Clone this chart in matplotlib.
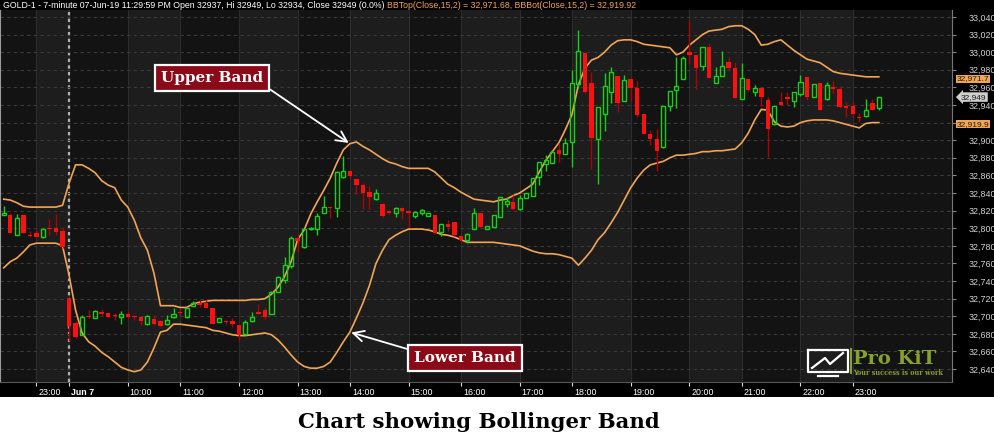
import matplotlib
matplotlib.use("Agg")
import matplotlib.pyplot as plt
import matplotlib.transforms as mtransforms
from matplotlib.lines import Line2D
from matplotlib.patches import Rectangle
import numpy as np

# 7-minute GOLD-1 bars, index 0 = first visible bar (previous evening)
opens = [32815, 32815, 32792, 32815, 32792, 32795, 32790, 32800, 32800, 32797,
         32721, 32692, 32679, 32700, 32698, 32704, 32704, 32701, 32699, 32702,
         32700, 32699, 32691, 32697, 32695, 32691, 32699, 32705, 32699, 32712,
         32715, 32715, 32709, 32694, 32694, 32695, 32690, 32680, 32695, 32705,
         32707, 32703, 32727, 32741, 32757, 32789, 32779, 32799, 32799, 32817,
         32824, 32823, 32858, 32865, 32856, 32849, 32841, 32833, 32828, 32820,
         32817, 32823, 32820, 32814, 32817, 32814, 32815, 32796, 32805, 32807,
         32791, 32787, 32799, 32817, 32799, 32801, 32813, 32828, 32830, 32822,
         32834, 32837, 32858, 32873, 32874, 32889, 32884, 32898, 32964, 32999,
         32965, 32901, 32930, 32955, 32973, 32945, 32970, 32959, 32930, 32907,
         32901, 32892, 32939, 32957, 32970, 33000, 32997, 32984, 33006, 32965,
         32973, 32989, 32982, 32947, 32970, 32955, 32959, 32946, 32918, 32943,
         32949, 32945, 32953, 32972, 32949, 32965, 32947, 32960, 32958, 32939,
         32939, 32926, 32927, 32942, 32937]
highs = [32825, 32817, 32816, 32815, 32797, 32798, 32800, 32810, 32816, 32801,
         32722, 32695, 32701, 32707, 32707, 32708, 32705, 32704, 32706, 32706,
         32701, 32699, 32701, 32701, 32696, 32701, 32709, 32708, 32711, 32717,
         32718, 32718, 32709, 32698, 32696, 32698, 32690, 32696, 32705, 32714,
         32711, 32729, 32746, 32767, 32791, 32792, 32800, 32801, 32817, 32837,
         32824, 32865, 32882, 32866, 32857, 32851, 32848, 32844, 32829, 32821,
         32824, 32824, 32821, 32820, 32822, 32817, 32815, 32805, 32809, 32807,
         32791, 32795, 32823, 32817, 32803, 32815, 32836, 32836, 32838, 32838,
         32840, 32857, 32875, 32883, 32889, 32897, 32903, 32980, 33025, 33000,
         32978, 32938, 32976, 32983, 32973, 32974, 32970, 32967, 32930, 32912,
         32913, 32939, 32956, 32995, 32996, 33037, 32997, 33006, 33009, 32983,
         33001, 32995, 32989, 32988, 32970, 32963, 32959, 32949, 32939, 32955,
         32955, 32955, 32974, 32972, 32964, 32965, 32966, 32967, 32962, 32943,
         32943, 32931, 32947, 32947, 32949]
lows = [32815, 32795, 32792, 32795, 32790, 32790, 32789, 32792, 32792, 32778,
        32672, 32675, 32679, 32698, 32698, 32700, 32699, 32696, 32691, 32698,
        32696, 32690, 32690, 32690, 32688, 32690, 32698, 32699, 32698, 32712,
        32711, 32709, 32691, 32694, 32691, 32688, 32672, 32679, 32694, 32702,
        32697, 32703, 32727, 32738, 32755, 32773, 32778, 32798, 32792, 32817,
        32812, 32813, 32857, 32856, 32839, 32822, 32822, 32832, 32813, 32816,
        32813, 32811, 32801, 32812, 32815, 32814, 32795, 32791, 32797, 32791,
        32784, 32783, 32799, 32800, 32799, 32801, 32813, 32824, 32821, 32821,
        32834, 32837, 32849, 32865, 32874, 32875, 32884, 32869, 32959, 32954,
        32867, 32850, 32911, 32942, 32932, 32945, 32945, 32926, 32907, 32895,
        32865, 32891, 32933, 32937, 32970, 32986, 32958, 32980, 32971, 32965,
        32973, 32980, 32948, 32947, 32956, 32950, 32939, 32881, 32917, 32940,
        32940, 32938, 32950, 32946, 32949, 32934, 32946, 32954, 32937, 32926,
        32926, 32921, 32926, 32934, 32934]
closes = [32817, 32795, 32812, 32795, 32791, 32790, 32799, 32799, 32796, 32779,
          32689, 32676, 32699, 32699, 32706, 32703, 32699, 32700, 32702, 32699,
          32699, 32695, 32700, 32691, 32689, 32696, 32703, 32704, 32709, 32715,
          32713, 32709, 32691, 32698, 32693, 32691, 32679, 32694, 32699, 32703,
          32699, 32728, 32745, 32758, 32789, 32786, 32799, 32800, 32814, 32824,
          32823, 32864, 32865, 32859, 32849, 32840, 32836, 32840, 32814, 32817,
          32823, 32820, 32817, 32818, 32821, 32817, 32795, 32805, 32801, 32792,
          32787, 32793, 32817, 32801, 32803, 32815, 32836, 32831, 32822, 32834,
          32840, 32857, 32875, 32878, 32887, 32884, 32897, 32965, 33001, 32955,
          32903, 32938, 32961, 32978, 32942, 32968, 32959, 32929, 32907, 32901,
          32888, 32939, 32956, 32962, 32993, 32997, 32982, 33006, 32971, 32973,
          32984, 32982, 32948, 32971, 32957, 32959, 32949, 32913, 32939, 32940,
          32947, 32955, 32966, 32949, 32964, 32934, 32963, 32958, 32938, 32937,
          32930, 32925, 32934, 32934, 32949]

# BBTop / BBBot (Close, 15, 2)
upper_band = [32833, 32832, 32829, 32825, 32824, 32824, 32824, 32824, 32824, 32826,
              32851, 32872, 32872, 32868, 32863, 32854, 32849, 32846, 32832, 32824,
              32809, 32789, 32775, 32749, 32712, 32712, 32712, 32710, 32710, 32714,
              32716, 32717, 32718, 32718, 32718, 32718, 32718, 32718, 32719, 32719,
              32720, 32725, 32733, 32745, 32762, 32787, 32798, 32816, 32830, 32843,
              32857, 32874, 32889, 32896, 32898, 32893, 32889, 32884, 32879, 32875,
              32873, 32870, 32868, 32868, 32868, 32868, 32864, 32857, 32850, 32846,
              32841, 32837, 32833, 32832, 32831, 32830, 32832, 32833, 32837, 32840,
              32845, 32850, 32864, 32877, 32887, 32897, 32912, 32929, 32963, 32982,
              32991, 32994, 33000, 33008, 33013, 33014, 33014, 33012, 33009, 33008,
              33007, 33006, 33005, 32997, 33000, 33008, 33014, 33020, 33024, 33025,
              33026, 33029, 33030, 33030, 33026, 33020, 33008, 33009, 33012, 33014,
              33008, 33002, 32997, 32992, 32990, 32988, 32983, 32978, 32976, 32975,
              32974, 32973, 32972, 32972, 32972]
lower_band = [32755, 32762, 32766, 32773, 32781, 32783, 32783, 32783, 32783, 32780,
              32747, 32707, 32681, 32671, 32666, 32659, 32654, 32648, 32642, 32639,
              32637, 32639, 32648, 32664, 32682, 32684, 32691, 32691, 32690, 32689,
              32688, 32687, 32684, 32683, 32681, 32679, 32678, 32678, 32679, 32680,
              32681, 32679, 32673, 32665, 32656, 32648, 32643, 32641, 32641, 32643,
              32648, 32659, 32671, 32682, 32698, 32715, 32735, 32760, 32775, 32787,
              32792, 32796, 32799, 32799, 32799, 32798, 32796, 32793, 32792, 32790,
              32787, 32784, 32784, 32784, 32784, 32784, 32783, 32782, 32781, 32780,
              32777, 32774, 32772, 32771, 32771, 32770, 32768, 32766, 32758, 32766,
              32775, 32787, 32795, 32806, 32818, 32832, 32846, 32857, 32866, 32872,
              32874, 32876, 32880, 32883, 32883, 32884, 32885, 32887, 32887, 32888,
              32888, 32889, 32890, 32897, 32908, 32923, 32935, 32934, 32921, 32916,
              32915, 32916, 32920, 32922, 32923, 32923, 32923, 32922, 32920, 32918,
              32916, 32914, 32919, 32920, 32920]

hour_ticks = [5, 10, 19, 27, 36, 45, 53, 62, 70, 79, 87, 96, 105, 113, 122, 130]
hour_labels = ["23:00", "Jun 7", "10:00", "11:00", "12:00", "13:00", "14:00", "15:00",
               "16:00", "17:00", "18:00", "19:00", "20:00", "21:00", "22:00", "23:00"]
session_start = 10
bb_top = 32971.68
bb_bot = 32919.92

header = ("GOLD-1 - 7-minute 07-Jun-19 11:29:59 PM Open 32937, Hi 32949, "
          "Lo 32934, Close 32949 (0.0%) ")
header_bb = "BBTop(Close,15,2) = 32,971.68, BBBot(Close,15,2) = 32,919.92"

W, H = 995, 448
SANS = "Liberation Sans"
ORANGE = "#f2a553"
UP = "#18d018"
DOWN = "#ff1010"
DOWN_WICK = "#b00000"


def px(x, y):
    return x / W, 1 - y / H


fig = plt.figure(figsize=(W / 100, H / 100), dpi=100, facecolor="white")
fig.add_artist(Rectangle(px(0, 397), 1, 397 / H, transform=fig.transFigure,
                         facecolor="black", edgecolor="none", zorder=0))

ax = fig.add_axes([0, 66 / H, 952 / W, 372 / H])
ax.set_facecolor("#131313")
ax.set_xlim(-0.57, 145.2)
ax.set_ylim(32625.3, 33047.9)

# alternating hour shading
for k in range(len(hour_ticks) - 1):
    if k % 2 == 0:
        ax.axvspan(hour_ticks[k], hour_ticks[k + 1], color="#1d1d1d", lw=0, zorder=0)
for t in hour_ticks:
    ax.axvline(t, color="#2c2c2c", lw=0.8, zorder=0.5)

ax.set_yticks(np.arange(32640, 33041, 20))
ax.grid(axis="y", color="#3a3a3a", ls=(0, (3, 3)), lw=0.8, zorder=0.6)
ax.axvline(session_start, color="#b0b0b0", ls=(0, (1.5, 1.5)), lw=1.6, zorder=1)

o = np.array(opens, float)
h = np.array(highs, float)
l = np.array(lows, float)
c = np.array(closes, float)
idx = np.arange(len(o))
top = np.maximum(o, c)
bot = np.minimum(o, c)
up = c >= o
dn = ~up

ax.plot(idx, upper_band, color=ORANGE, lw=1.2, zorder=2)
ax.plot(idx, lower_band, color=ORANGE, lw=1.2, zorder=2)

ax.vlines(idx[up], l[up], bot[up], color=UP, lw=1.0, zorder=3)
ax.vlines(idx[up], top[up], h[up], color=UP, lw=1.0, zorder=3)
ax.vlines(idx[dn], l[dn], h[dn], color=DOWN_WICK, lw=1.0, zorder=3)
ax.bar(idx[dn], np.maximum(top[dn] - bot[dn], 1.3), bottom=bot[dn], width=0.68,
       color=DOWN, lw=0, zorder=4)
ax.bar(idx[up], np.maximum(top[up] - bot[up], 1.3), bottom=bot[up], width=0.62,
       facecolor="none", edgecolor=UP, lw=1.0, zorder=4)

# axes styling
ax.spines["top"].set_visible(False)
ax.spines["left"].set_color("#9a9a9a")
ax.spines["bottom"].set_color("#555555")
ax.spines["right"].set_color("#777777")
ax.yaxis.tick_right()
ax.tick_params(axis="y", colors="#888888", labelcolor="#d2d2d2", labelsize=6.4,
               length=3, pad=9)
# the 32,920 level sits under the BBBot price box, as on the original scale
ax.yaxis.set_major_formatter(matplotlib.ticker.FuncFormatter(
    lambda v, p: "" if abs(v - bb_bot) < 5 else f"{v:,.0f}"))
ax.set_xticks(hour_ticks)
ax.set_xticklabels(hour_labels)
ax.tick_params(axis="x", colors="#dddddd", labelcolor="white", labelsize=6.4,
               length=3, pad=1.5)
shift = mtransforms.ScaledTranslation(2 / 100, 0, fig.dpi_scale_trans)
for lbl in ax.get_xticklabels() + ax.get_yticklabels():
    lbl.set_fontfamily(SANS)
for lbl in ax.get_xticklabels():
    lbl.set_ha("left")
    lbl.set_transform(lbl.get_transform() + shift)
    if lbl.get_text() == "Jun 7":
        lbl.set_fontweight("bold")

# price boxes on the right scale
blend = mtransforms.blended_transform_factory(ax.transAxes, ax.transData)
for val, txt in [(bb_top, f"{bb_top:,.1f}"), (bb_bot, f"{bb_bot:,.1f}")]:
    ax.text(1 + 5 / 952, val - 1.8, txt, transform=blend, ha="left", va="center",
            fontsize=6.0, family=SANS, color="#1a1a1a", zorder=10,
            bbox=dict(boxstyle="square,pad=0.08", fc=ORANGE, ec="none"))
ax.text(1 + 9 / 952, closes[-1], f"{closes[-1]:,.0f}", transform=blend, ha="left",
        va="center", fontsize=6.0, family=SANS, color="#1a1a1a", zorder=10,
        bbox=dict(boxstyle="larrow,pad=0.15", fc="#cfcfcf", ec="none"))

# header line
t1 = fig.text(3 / W, 1 - 5.5 / H, header, fontsize=6.3, family=SANS,
              color="white", va="center", ha="left")
ax.annotate(header_bb, xy=(1, 0.5), xycoords=t1, va="center", ha="left",
            fontsize=6.3, family=SANS, color=ORANGE, annotation_clip=False)

# band callouts
box = dict(boxstyle="square,pad=0.4", fc="#8a0a18", ec="white", lw=1.6)
arrow = "->,head_length=0.7,head_width=0.35"
ax.annotate("Upper Band", xy=(53, upper_band[53]), xytext=(31.9, 32971),
            ha="center", va="center", fontsize=11, weight="bold",
            family="DejaVu Serif", color="white", bbox=box, zorder=12,
            arrowprops=dict(arrowstyle=arrow, color="white", lw=1.3,
                            relpos=(1, 0), shrinkA=0, shrinkB=1))
ax.annotate("Lower Band", xy=(53, lower_band[53]), xytext=(70.6, 32652.6),
            ha="center", va="center", fontsize=11, weight="bold",
            family="DejaVu Serif", color="white", bbox=box, zorder=12,
            arrowprops=dict(arrowstyle=arrow, color="white", lw=1.3,
                            relpos=(0, 1), shrinkA=0, shrinkB=1))

# logo
OLIVE = "#86a12c"
mon = [(808, 350), (848, 350), (848, 372), (808, 372), (808, 350)]
fig.add_artist(Line2D(*zip(*[px(*p) for p in mon]), transform=fig.transFigure,
                      color="white", lw=1.6, zorder=20))
fig.add_artist(Line2D(*zip(*[px(*p) for p in [(818, 376), (838, 376)]]),
                      transform=fig.transFigure, color="white", lw=1.6, zorder=20))
zig = [(812, 368), (825, 358), (830, 364), (843, 353)]
fig.add_artist(Line2D(*zip(*[px(*p) for p in zig]), transform=fig.transFigure,
                      color="white", lw=1.6, zorder=20))
fig.add_artist(Line2D(*zip(*[px(*p) for p in [(851, 349), (851, 373)]]),
                      transform=fig.transFigure, color=OLIVE, lw=1.5, zorder=20))
fig.text(*px(853, 359), "Pro KiT", fontsize=14, weight="bold", family="DejaVu Serif",
         color=OLIVE, va="center", ha="left", zorder=20)
fig.text(*px(853, 373), "Your success is our work", fontsize=4.7, weight="bold",
         family="DejaVu Serif", color=OLIVE, va="center", ha="left", zorder=20)

fig.text(*px(479, 422), "Chart showing Bollinger Band", fontsize=15.3, weight="bold",
         family="DejaVu Serif", color="black", ha="center", va="center")

fig.savefig("out.png", dpi=100, facecolor=fig.get_facecolor())
